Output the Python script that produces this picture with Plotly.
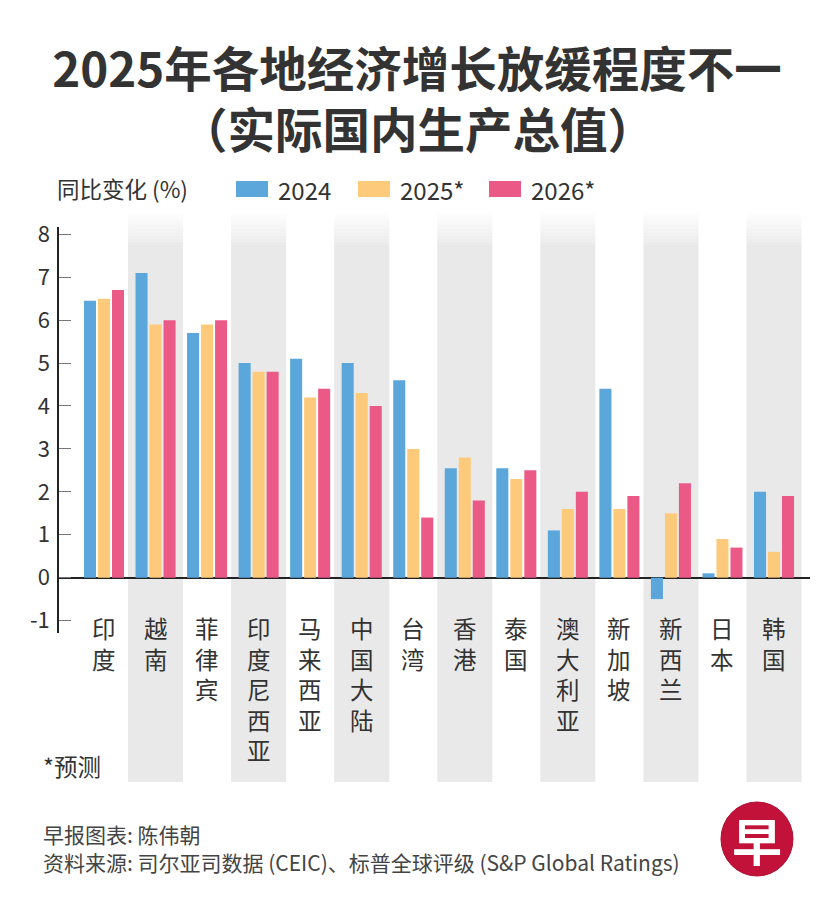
import plotly.graph_objects as go

# ---------------- data ----------------
categories = ["印度", "越南", "菲律宾", "印度尼西亚", "马来西亚", "中国大陆", "台湾",
              "香港", "泰国", "澳大利亚", "新加坡", "新西兰", "日本", "韩国"]
series_names = ["2024", "2025*", "2026*"]
values_2024 = [6.45, 7.1, 5.7, 5.0, 5.1, 5.0, 4.6, 2.55, 2.55, 1.1, 4.4, -0.5, 0.1, 2.0]
values_2025 = [6.5, 5.9, 5.9, 4.8, 4.2, 4.3, 3.0, 2.8, 2.3, 1.6, 1.6, 1.5, 0.9, 0.6]
values_2026 = [6.7, 6.0, 6.0, 4.8, 4.4, 4.0, 1.4, 1.8, 2.5, 2.0, 1.9, 2.2, 0.7, 1.9]
y_tick_values = [-1, 0, 1, 2, 3, 4, 5, 6, 7, 8]
y_tick_labels = ["-1", "0", "1", "2", "3", "4", "5", "6", "7", "8"]

title_line1 = "2025年各地经济增长放缓程度不一"
title_line2 = "（实际国内生产总值）"
y_label = "同比变化 (%)"
note_text = "*预测"
credit_text = "早报图表: 陈伟朝"
source_text = "资料来源: 司尔亚司数据 (CEIC)、标普全球评级 (S&P Global Ratings)"

# ---------------- style ----------------
colors = ["#5ba6db", "#fdca7b", "#eb5a87"]
FONT = "Noto Sans CJK SC"
TXT = "#333333"
OFF = 8                      # page body margin
W, H = 833 - 2 * OFF, 917 - 2 * OFF
# plot area in page pixels: x 59..810, y 227..633
ML = 59 - OFF
MR = W - (810 - OFF)
MT = 227 - OFF
MB = H - (633 - OFF)
PW, PH = W - ML - MR, H - MT - MB


def px(xp):
    """page pixel x -> paper x"""
    return (xp - OFF - ML) / PW


def py(yp):
    """page pixel y -> paper y"""
    return (H - MB - (yp - OFF)) / PH


series_values = [values_2024, values_2025, values_2026]

fig = go.Figure()
for name, vals, col in zip(series_names, series_values, colors):
    fig.add_trace(go.Bar(x=categories, y=vals, name=name, marker_color=col,
                         marker_line_width=0, showlegend=False))

shapes = []
annotations = []

# alternating background bands (odd categories) with faded top
band_half = 0.534
for i in range(len(categories)):
    if i % 2 == 1:
        shapes.append(dict(type="rect", xref="x", yref="paper", layer="below",
                           x0=i - band_half, x1=i + band_half,
                           y0=py(782), y1=py(245), fillcolor="#e9e9e9",
                           line_width=0))
        n = 10
        top, bot = 213, 245
        for k in range(n):
            a = (k + 1) / (n + 1)
            shapes.append(dict(type="rect", xref="x", yref="paper", layer="below",
                               x0=i - band_half, x1=i + band_half,
                               y0=py(top + (k + 1) * (bot - top) / n),
                               y1=py(top + k * (bot - top) / n),
                               fillcolor="#e9e9e9", opacity=a, line_width=0))

# vertical category labels
for c in categories:
    annotations.append(dict(x=c, xref="x", y=py(609), yref="paper",
                            yanchor="top", xanchor="center", showarrow=False,
                            text="<br>".join(list(c)),
                            font=dict(family=FONT, size=23.5, color=TXT)))

# title second line
annotations.append(dict(x=px(417), y=py(128), xref="paper", yref="paper",
                        xanchor="center", yanchor="middle", showarrow=False,
                        text=title_line2,
                        font=dict(family=FONT, size=47.5, color=TXT, weight="bold")))

# y label
annotations.append(dict(x=px(55), y=py(188), xref="paper", yref="paper",
                        xanchor="left", yanchor="middle", showarrow=False,
                        text=y_label, font=dict(family=FONT, size=22.5, color=TXT)))

# manual legend
legend_x = [236, 358, 489]
for lx, name, col in zip(legend_x, series_names, colors):
    shapes.append(dict(type="rect", xref="paper", yref="paper",
                       x0=px(lx), x1=px(lx + 32), y0=py(197), y1=py(181),
                       fillcolor=col, line_width=0))
    annotations.append(dict(x=px(lx + 40), y=py(189), xref="paper", yref="paper",
                            xanchor="left", yanchor="middle", showarrow=False,
                            text=name, font=dict(family=FONT, size=24, color=TXT)))

# note + footer
annotations.append(dict(x=px(41), y=py(766), xref="paper", yref="paper",
                        xanchor="left", yanchor="middle", showarrow=False,
                        text=note_text, font=dict(family=FONT, size=23.5, color=TXT)))
annotations.append(dict(x=px(41), y=py(834), xref="paper", yref="paper",
                        xanchor="left", yanchor="middle", showarrow=False,
                        text=credit_text, font=dict(family=FONT, size=21, color="#444444")))
annotations.append(dict(x=px(41), y=py(862), xref="paper", yref="paper",
                        xanchor="left", yanchor="middle", showarrow=False,
                        text=source_text, font=dict(family=FONT, size=21, color="#444444")))

# logo
shapes.append(dict(type="circle", xref="paper", yref="paper",
                   x0=px(721), x1=px(793), y0=py(876), y1=py(802),
                   fillcolor="#c3123a", line=dict(color="#b00d33", width=1)))
annotations.append(dict(x=px(757), y=py(839), xref="paper", yref="paper",
                        xanchor="center", yanchor="middle", showarrow=False,
                        text="<b>早</b>", font=dict(family=FONT, size=50, color="white")))

fig.update_layout(
    width=W, height=H, autosize=False,
    margin=dict(l=ML, r=MR, t=MT, b=MB, pad=0),
    paper_bgcolor="white", plot_bgcolor="rgba(0,0,0,0)",
    barmode="group", bargap=0.185, bargroupgap=0.14,
    title=dict(text=title_line1, x=(417 - OFF) / W, xref="container", xanchor="center",
               y=1 - (70 - OFF) / H, yref="container", yanchor="middle",
               font=dict(family=FONT, size=47.5, color=TXT, weight="bold")),
    font=dict(family=FONT, color=TXT),
    shapes=shapes, annotations=annotations,
    xaxis=dict(type="category", range=[-0.873, 13.698], showticklabels=False,
               showgrid=False, zeroline=False, showline=False, ticks=""),
    yaxis=dict(range=[-1.29, 8.17], tickvals=y_tick_values, ticktext=y_tick_labels,
               showgrid=False, showline=True, linecolor="#222222", linewidth=1.5,
               ticks="inside", ticklen=12, tickwidth=1, tickcolor="#777777",
               zeroline=True, zerolinecolor="#222222", zerolinewidth=1.5,
               ticklabelstandoff=3,
               tickfont=dict(family=FONT, size=22, color=TXT)),
)

fig.write_html("out.html")
